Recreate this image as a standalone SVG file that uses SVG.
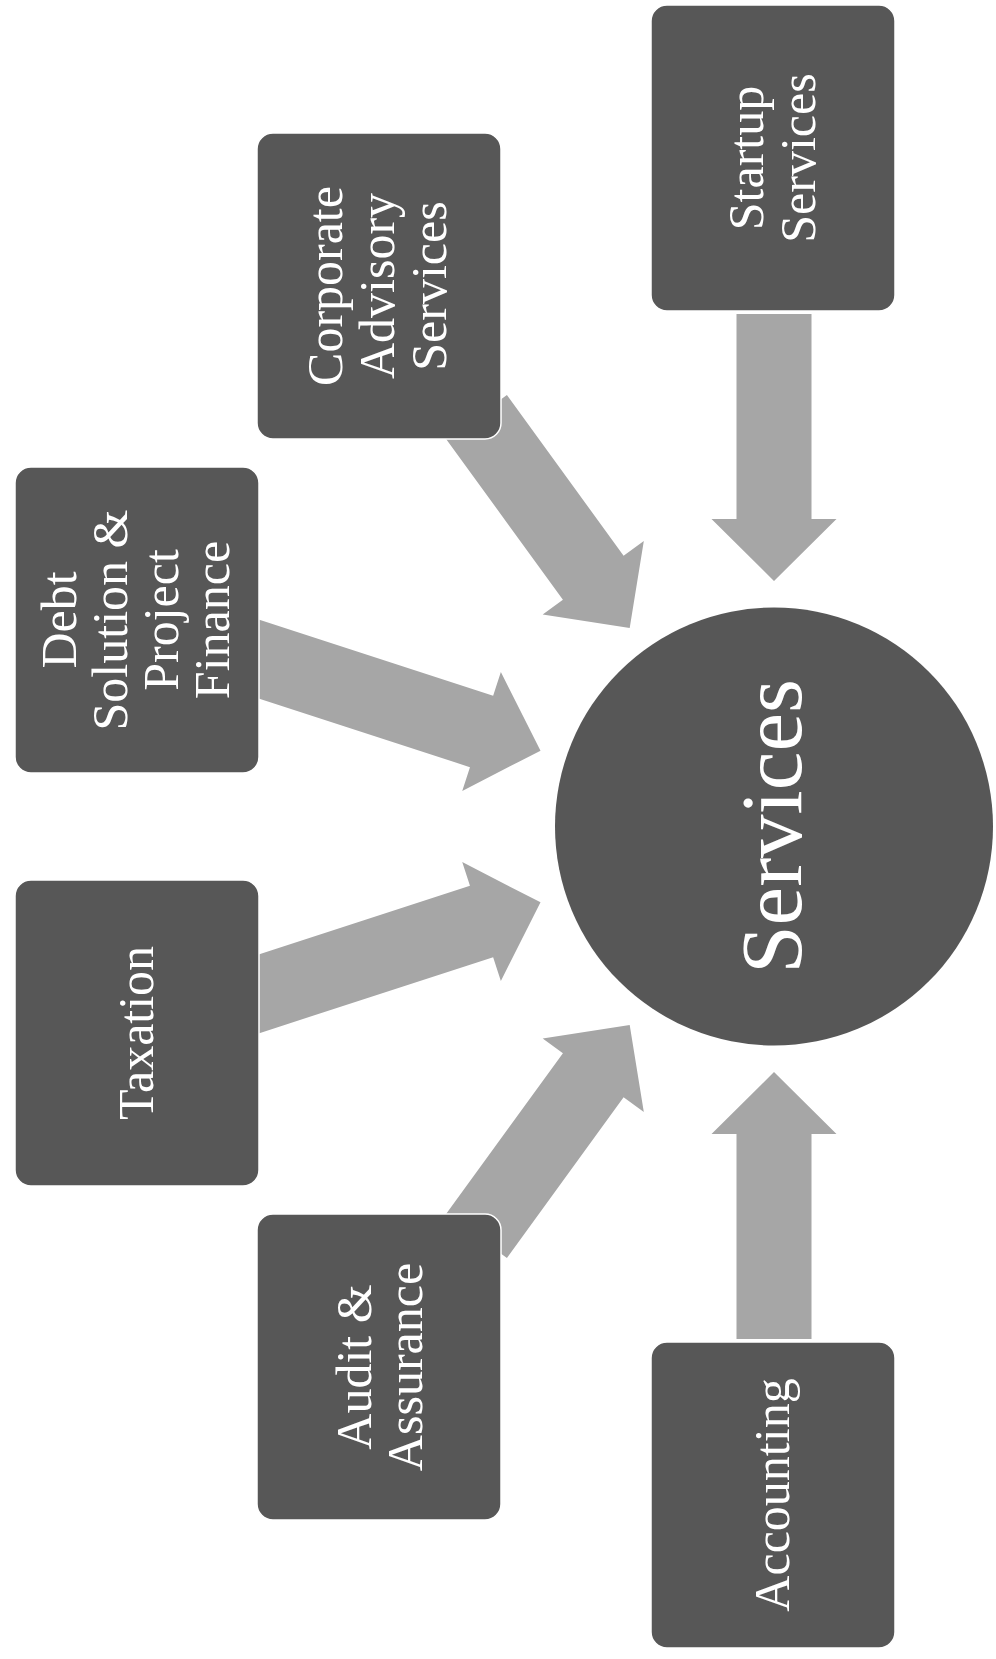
<svg xmlns="http://www.w3.org/2000/svg" width="996" height="1659" viewBox="0 0 996 1659">
<defs>
<style>
.box{fill:#575757;stroke:#ffffff;stroke-width:1.5}
.arr{fill:#a6a6a6}
.t{fill:#ffffff;font-family:"Liberation Serif","Times New Roman",serif;font-size:50px;text-anchor:middle}
.big{font-size:87px}
</style>
</defs>
<rect width="996" height="1659" fill="#ffffff"/>
<g id="connectors">
<polygon class="arr" transform="translate(774,826.5) rotate(90) translate(-245.5,0)" points="-267,-37.5 -62,-37.5 -62,-62.5 0,0 -62,62.5 -62,37.5 -267,37.5"/>
<polygon class="arr" transform="translate(774,826.5) rotate(54) translate(-245.5,0)" points="-260.5,-37.5 -62,-37.5 -62,-62.5 0,0 -62,62.5 -62,37.5 -260.5,37.5"/>
<polygon class="arr" transform="translate(774,826.5) rotate(18) translate(-245.5,0)" points="-320,-37.5 -62,-37.5 -62,-62.5 0,0 -62,62.5 -62,37.5 -320,37.5"/>
<polygon class="arr" transform="translate(774,826.5) rotate(-18) translate(-245.5,0)" points="-320,-37.5 -62,-37.5 -62,-62.5 0,0 -62,62.5 -62,37.5 -320,37.5"/>
<polygon class="arr" transform="translate(774,826.5) rotate(-54) translate(-245.5,0)" points="-260.5,-37.5 -62,-37.5 -62,-62.5 0,0 -62,62.5 -62,37.5 -260.5,37.5"/>
<polygon class="arr" transform="translate(774,826.5) rotate(-90) translate(-245.5,0)" points="-267,-37.5 -62,-37.5 -62,-62.5 0,0 -62,62.5 -62,37.5 -267,37.5"/>
</g>
<g id="services">
<circle cx="774" cy="826.5" r="219" fill="#575757"/>
<text class="t big" transform="translate(774,826.5) rotate(-90)" y="27">Services</text>
</g>
<g id="startup">
<rect class="box" x="651" y="5" width="244" height="306" rx="16"/>
<text class="t" transform="translate(773,158) rotate(-90)"><tspan x="0" y="-10">Startup</tspan><tspan x="0" y="42">Services</tspan></text>
</g>
<g id="corporate">
<rect class="box" x="257" y="133" width="244" height="306" rx="16"/>
<text class="t" transform="translate(379,286) rotate(-90)"><tspan x="0" y="-37">Corporate</tspan><tspan x="0" y="15">Advisory</tspan><tspan x="0" y="67">Services</tspan></text>
</g>
<g id="debt">
<rect class="box" x="15" y="467" width="244" height="306" rx="16"/>
<text class="t" transform="translate(137,620) rotate(-90)"><tspan x="0" y="-61">Debt</tspan><tspan x="0" y="-10">Solution &amp;</tspan><tspan x="0" y="41">Project</tspan><tspan x="0" y="92">Finance</tspan></text>
</g>
<g id="taxation">
<rect class="box" x="15" y="880" width="244" height="306" rx="16"/>
<text class="t" transform="translate(137,1033) rotate(-90)" y="16">Taxation</text>
</g>
<g id="audit">
<rect class="box" x="257" y="1214" width="244" height="306" rx="16"/>
<text class="t" transform="translate(379,1367) rotate(-90)"><tspan x="0" y="-8">Audit &amp;</tspan><tspan x="0" y="43">Assurance</tspan></text>
</g>
<g id="accounting">
<rect class="box" x="651" y="1342" width="244" height="306" rx="16"/>
<text class="t" transform="translate(773,1495) rotate(-90)" y="16">Accounting</text>
</g>
</svg>
